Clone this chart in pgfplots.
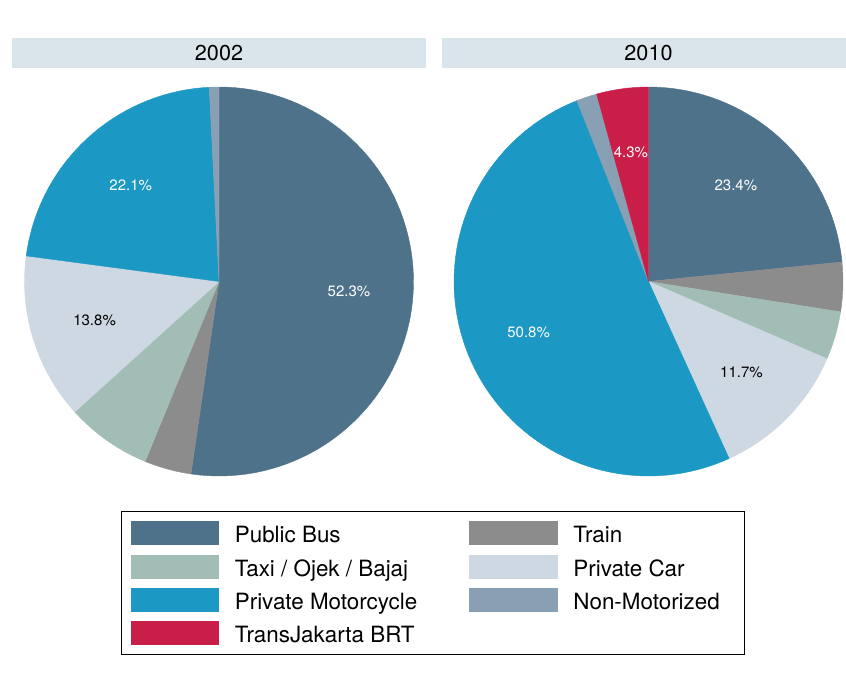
\documentclass[border=0pt]{standalone}
\usepackage{pgfplots}
\pgfplotsset{compat=1.18}
\usepackage{fontspec}
\setmainfont{TeX Gyre Heros}
\definecolor{cBus}{HTML}{4E7289}
\definecolor{cTrain}{HTML}{8C8C8C}
\definecolor{cTaxi}{HTML}{A2BDB6}
\definecolor{cCar}{HTML}{CDD8E2}
\definecolor{cMoto}{HTML}{1B98C4}
\definecolor{cNonMot}{HTML}{899FB4}
\definecolor{cBRT}{HTML}{C81E47}
\definecolor{cStrip}{HTML}{D9E5EB}

\newcommand\labelfont{\fontsize{7.5}{9}\selectfont}
\gdef\cum{0}
% #1 share (percent), #2 fill colour, #3 label colour (empty = no label)
\newcommand\pieslice[3]{%
  \pgfmathsetmacro\psA{90-3.6*\cum}%
  \pgfmathsetmacro\psNew{\cum+#1}%
  \pgfmathsetmacro\psB{90-3.6*\psNew}%
  \xdef\cum{\psNew}%
  \pgfmathtruncatemacro\psN{max(2,ceil(#1*1.5))}%
  \gdef\pspts{(0,0)}%
  \foreach \i in {0,...,\psN}{%
    \pgfmathsetmacro\psT{\psA+(\psB-\psA)*\i/\psN}%
    \pgfmathsetmacro\psX{cos(\psT)}%
    \pgfmathsetmacro\psY{sin(\psT)}%
    \xdef\pspts{\pspts (\psX,\psY)}%
  }%
  \edef\psdo{\noexpand\addplot[fill=#2, draw=#2, line width=0.2pt, line join=round, forget plot] coordinates {\pspts (0,0)};}%
  \psdo
  \if\relax\detokenize{#3}\relax\else
    \pgfmathsetmacro\psM{(\psA+\psB)/2}%
    \pgfmathsetmacro\psLX{0.67*cos(\psM)}%
    \pgfmathsetmacro\psLY{0.67*sin(\psM)}%
    \edef\psdo{\noexpand\node[text=#3, font=\noexpand\labelfont, inner sep=0pt] at (axis cs:\psLX,\psLY) {#1\noexpand\%};}%
    \psdo
  \fi
}

\pgfplotsset{pieaxis/.style={
  hide axis, scale only axis, width=194.5pt, height=194.5pt,
  xmin=-1, xmax=1, ymin=-1, ymax=1, clip=false, anchor=center,
  every axis title shift=0pt,
  title style={at={(0.5,1.0869)}, anchor=center, fill=cStrip,
    minimum width=207pt, minimum height=14.75pt, inner sep=0pt,
    font=\fontsize{10.8}{13}\selectfont}
}}

\begin{document}
\begin{tikzpicture}
\useasboundingbox (0,0) rectangle (423pt,340.5pt);

% ---------- 2002 ----------
\gdef\cum{0}
\begin{axis}[pieaxis, at={(109.5pt,199.75pt)}, title={2002},
  legend columns=2,
  legend cell align=left,
  legend image code/.code={\fill[#1] (0pt,-6pt) rectangle (44.25pt,6pt);},
  legend style={at={(0.248,-0.09)}, anchor=north west, draw=black,
    line width=0.6pt, inner xsep=4.6pt, inner ysep=4.8pt,
    font=\fontsize{11.2}{13}\selectfont, row sep=4.65pt,
    nodes={inner sep=0pt, text height=10.6pt, text depth=1.0pt},
    /tikz/every odd column/.append style={column sep=7.8pt},
    /tikz/every even column/.append style={column sep=26pt}},
]
\pieslice{52.3}{cBus}{white}
\pieslice{3.9}{cTrain}{}
\pieslice{7.1}{cTaxi}{}
\pieslice{13.8}{cCar}{black}
\pieslice{22.1}{cMoto}{white}
\pieslice{0.8}{cNonMot}{}
\addlegendimage{fill=cBus, draw=none}\addlegendentry{Public Bus}
\addlegendimage{fill=cTrain, draw=none}\addlegendentry{Train}
\addlegendimage{fill=cTaxi, draw=none}\addlegendentry{Taxi / Ojek / Bajaj}
\addlegendimage{fill=cCar, draw=none}\addlegendentry{Private Car}
\addlegendimage{fill=cMoto, draw=none}\addlegendentry{Private Motorcycle}
\addlegendimage{fill=cNonMot, draw=none}\addlegendentry{Non-Motorized\rule{7.8pt}{0pt}}
\addlegendimage{fill=cBRT, draw=none}\addlegendentry{TransJakarta BRT}
\end{axis}

% ---------- 2010 ----------
\gdef\cum{0}
\begin{axis}[pieaxis, at={(324.25pt,199.75pt)}, title={2010}]
\pieslice{23.4}{cBus}{white}
\pieslice{4.1}{cTrain}{}
\pieslice{4.0}{cTaxi}{}
\pieslice{11.7}{cCar}{black}
\pieslice{50.8}{cMoto}{white}
\pieslice{1.7}{cNonMot}{}
\pieslice{4.3}{cBRT}{white}
\end{axis}
\end{tikzpicture}
\end{document}
